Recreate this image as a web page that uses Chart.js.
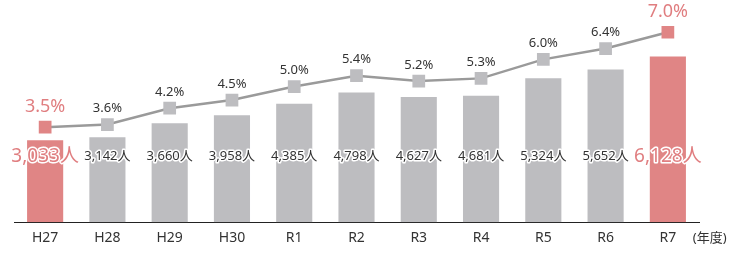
<!DOCTYPE html>
<html><head><meta charset="utf-8">
<script src="https://cdn.jsdelivr.net/npm/chart.js@4/dist/chart.umd.min.js"></script>
<style>html,body{margin:0;padding:0;background:#fff}#wrap{width:736px;height:253px}</style>
</head><body><div id="wrap"><canvas id="c" width="736" height="253"></canvas></div>
<script>
const categories = ['H27','H28','H29','H30','R1','R2','R3','R4','R5','R6','R7'];
const people = [3033,3142,3660,3958,4385,4798,4627,4681,5324,5652,6128];
const rates = [3.5,3.6,4.2,4.5,5.0,5.4,5.2,5.3,6.0,6.4,7.0];
const unitLabel = '(年度)';

const RED = '#e08585', GRAY = '#bdbdc0', REDTXT = '#e07e80';
const highlight = i => i === 0 || i === categories.length - 1;
const FONT = '"Noto Sans", "Noto Sans CJK JP", sans-serif';

const labelPlugin = {
  id: 'labels',
  afterDatasetsDraw(chart) {
    const ctx = chart.ctx;
    const x = chart.scales.x, y2 = chart.scales.y2;
    ctx.save();
    ctx.textAlign = 'center';
    ctx.textBaseline = 'middle';
    ctx.lineJoin = 'round';
    categories.forEach((c, i) => {
      const px = x.getPixelForValue(i);
      const txt = people[i].toLocaleString('en-US') + '人';
      const ly = chart.chartArea.bottom - 66;
      if (highlight(i)) {
        ctx.font = '19px ' + FONT;
        ctx.fillStyle = REDTXT;
      } else {
        ctx.font = '13px ' + FONT;
        ctx.fillStyle = '#333';
      }
      ctx.strokeStyle = '#fff';
      ctx.lineWidth = 3;
      ctx.strokeText(txt, px, ly);
      ctx.fillText(txt, px, ly);
      const py = y2.getPixelForValue(rates[i]);
      const rt = rates[i].toFixed(1) + '%';
      if (highlight(i)) {
        ctx.font = '18px ' + FONT;
        ctx.fillStyle = REDTXT;
        ctx.fillText(rt, px, py - 20);
      } else {
        ctx.font = '13px ' + FONT;
        ctx.fillStyle = '#333';
        ctx.fillText(rt, px, py - 16);
      }
    });
    ctx.font = '13px ' + FONT;
    ctx.fillStyle = '#333';
    ctx.textAlign = 'left';
    const lx = x.getPixelForValue(categories.length - 1) + 25;
    ctx.fillText(unitLabel, lx, chart.chartArea.bottom + 16);
    ctx.restore();
  }
};

new Chart(document.getElementById('c'), {
  data: {
    labels: categories,
    datasets: [
      {
        type: 'line', data: rates, yAxisID: 'y2', order: 0,
        borderColor: '#9a9a9a', borderWidth: 2.5,
        pointStyle: 'rect', pointRadius: 9, pointHoverRadius: 9,
        pointBackgroundColor: categories.map((c, i) => highlight(i) ? RED : GRAY),
        pointBorderWidth: 0, tension: 0
      },
      {
        type: 'bar', data: people, yAxisID: 'y', order: 1,
        backgroundColor: categories.map((c, i) => highlight(i) ? RED : GRAY),
        categoryPercentage: 1, barPercentage: 0.58
      }
    ]
  },
  options: {
    responsive: false, animation: false,
    layout: { padding: { left: 14, right: 37, top: 10, bottom: 0 } },
    plugins: { legend: { display: false }, tooltip: { enabled: false } },
    scales: {
      x: {
        grid: { display: false, drawTicks: false },
        border: { display: true, color: '#222', width: 1 },
        ticks: { color: '#333', font: { size: 14, family: FONT }, padding: 7 }
      },
      y: { display: false, min: 0, max: 7850 },
      y2: { display: false, min: 0, max: 7.82 }
    }
  },
  plugins: [labelPlugin]
});
</script></body></html>
